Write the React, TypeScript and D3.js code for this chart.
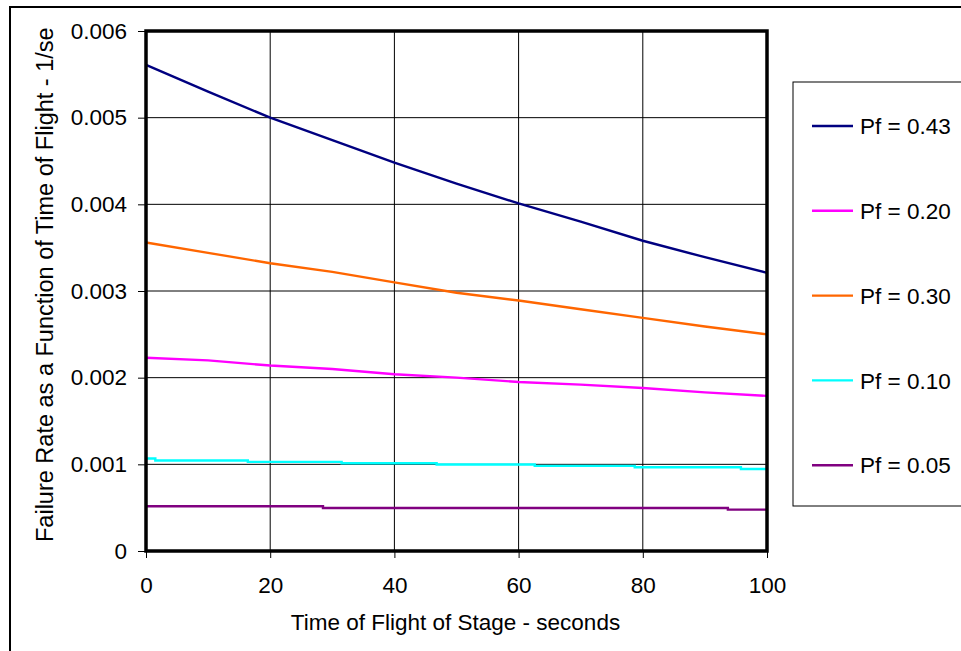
import React, { useEffect, useRef } from 'react';
import * as d3 from 'd3';

// time of flight (s) for the sampled series
const times = [0, 10, 20, 30, 40, 50, 60, 70, 80, 90, 100];
// failure rate, 1/sec
const pf043 = [0.00561, 0.0053, 0.005, 0.00474, 0.00448, 0.00424, 0.00401, 0.0038, 0.00358, 0.00339, 0.00321];
const pf030 = [0.00356, 0.00344, 0.00332, 0.00322, 0.0031, 0.00298, 0.00289, 0.00279, 0.00269, 0.00259, 0.0025];
const pf020 = [0.00223, 0.0022, 0.00214, 0.0021, 0.00204, 0.002, 0.00195, 0.00192, 0.00188, 0.00183, 0.00179];
// the two low series move in small steps
const pf010Times = [0, 1.5, 16.4, 31.5, 46.8, 62.6, 78.7, 95.8, 100];
const pf010 = [0.001067, 0.001044, 0.001028, 0.001013, 0.000998, 0.000982, 0.000966, 0.000947, 0.000947];
const pf005Times = [0, 28.5, 93.7, 100];
const pf005 = [0.000516, 0.000496, 0.000477, 0.000477];

const legendLabels = ['Pf = 0.43', 'Pf = 0.20', 'Pf = 0.30', 'Pf = 0.10', 'Pf = 0.05'];
const xTicks = [0, 20, 40, 60, 80, 100];
const yTicks = [0, 0.001, 0.002, 0.003, 0.004, 0.005, 0.006];

const FONT = '"Liberation Sans", Arial, sans-serif';
const FS = 22.5;

export default function App() {
    const ref = useRef<SVGSVGElement>(null);

    useEffect(() => {
        const svg = d3.select(ref.current);
        svg.selectAll('*').remove();

        const left = 146, top = 31, right = 767, bottom = 551;

        const x = d3.scaleLinear().domain([0, 100]).range([left, right]);
        const y = d3.scaleLinear().domain([0, 0.006]).range([bottom, top]);

        // outer chart border (runs off the right and bottom edges)
        svg.append('rect')
            .attr('x', 10).attr('y', 7)
            .attr('width', 1000).attr('height', 700)
            .attr('fill', 'white')
            .attr('stroke', 'black')
            .attr('stroke-width', 2);

        // gridlines
        const grid = svg.append('g');
        grid.selectAll('.vg')
            .data(xTicks.slice(1, -1))
            .enter()
            .append('line')
            .attr('x1', d => x(d)).attr('x2', d => x(d))
            .attr('y1', top).attr('y2', bottom)
            .attr('stroke', 'black').attr('stroke-width', 1);
        grid.selectAll('.hg')
            .data(yTicks.slice(1, -1))
            .enter()
            .append('line')
            .attr('x1', left).attr('x2', right)
            .attr('y1', d => y(d)).attr('y2', d => y(d))
            .attr('stroke', 'black').attr('stroke-width', 1);

        // axes
        const yAxis = svg.append('g')
            .attr('transform', `translate(${left},0)`)
            .call(d3.axisLeft(y)
                .tickValues(yTicks)
                .tickSize(8)
                .tickPadding(11)
                .tickFormat(d => (+d === 0 ? '0' : d3.format('.3f')(+d))));
        yAxis.select('.domain').remove();
        yAxis.selectAll('text').attr('font-size', FS).attr('font-family', FONT).attr('fill', 'black');

        const xAxis = svg.append('g')
            .attr('transform', `translate(0,${bottom})`)
            .call(d3.axisBottom(x)
                .tickValues(xTicks)
                .tickSize(7)
                .tickPadding(19));
        xAxis.select('.domain').remove();
        xAxis.selectAll('text').attr('font-size', FS).attr('font-family', FONT).attr('fill', 'black');

        // series
        const series = [
            { t: times, v: pf043, color: '#000080', curve: d3.curveLinear },
            { t: times, v: pf020, color: '#FF00FF', curve: d3.curveLinear },
            { t: times, v: pf030, color: '#FF6600', curve: d3.curveLinear },
            { t: pf010Times, v: pf010, color: '#00FFFF', curve: d3.curveStepAfter },
            { t: pf005Times, v: pf005, color: '#800080', curve: d3.curveStepAfter },
        ];

        series.forEach(s => {
            const line = d3.line<number>()
                .x((_, i) => x(s.t[i]))
                .y(d => y(d))
                .curve(s.curve);
            svg.append('path')
                .attr('d', line(s.v))
                .attr('fill', 'none')
                .attr('stroke', s.color)
                .attr('stroke-width', 2.4);
        });

        // plot frame
        svg.append('rect')
            .attr('x', left).attr('y', top)
            .attr('width', right - left).attr('height', bottom - top)
            .attr('fill', 'none')
            .attr('stroke', 'black')
            .attr('stroke-width', 3.5);

        // axis titles
        svg.append('text')
            .attr('x', (left + right) / 2 - 1)
            .attr('y', 630)
            .attr('text-anchor', 'middle')
            .attr('font-size', FS)
            .attr('font-family', FONT)
            .text('Time of Flight of Stage - seconds');

        // y title is cut off at the top, as in the original
        svg.append('clipPath')
            .attr('id', 'ytitle-clip')
            .append('rect')
            .attr('x', 0).attr('y', 27).attr('width', 90).attr('height', 600);
        svg.append('g')
            .attr('clip-path', 'url(#ytitle-clip)')
            .append('text')
            .attr('transform', 'translate(53,542) rotate(-90)')
            .attr('font-size', 23.5)
            .attr('font-family', FONT)
            .text('Failure Rate as a Function of Time of Flight - 1/sec');

        // legend
        svg.append('rect')
            .attr('x', 793).attr('y', 82)
            .attr('width', 300).attr('height', 424)
            .attr('fill', 'white')
            .attr('stroke', 'black')
            .attr('stroke-width', 1);

        const legend = svg.append('g');
        series.forEach((s, i) => {
            const ly = 126 + i * 84.8;
            legend.append('line')
                .attr('x1', 812).attr('x2', 853)
                .attr('y1', ly).attr('y2', ly)
                .attr('stroke', s.color)
                .attr('stroke-width', 2.4);
            legend.append('text')
                .attr('x', 860).attr('y', ly)
                .attr('dy', '0.36em')
                .attr('font-size', FS)
                .attr('font-family', FONT)
                .text(legendLabels[i]);
        });
    }, []);

    return (
        <svg ref={ref} width={961} height={651}
             style={{ position: 'absolute', left: 0, top: 0, background: 'white' }} />
    );
}
